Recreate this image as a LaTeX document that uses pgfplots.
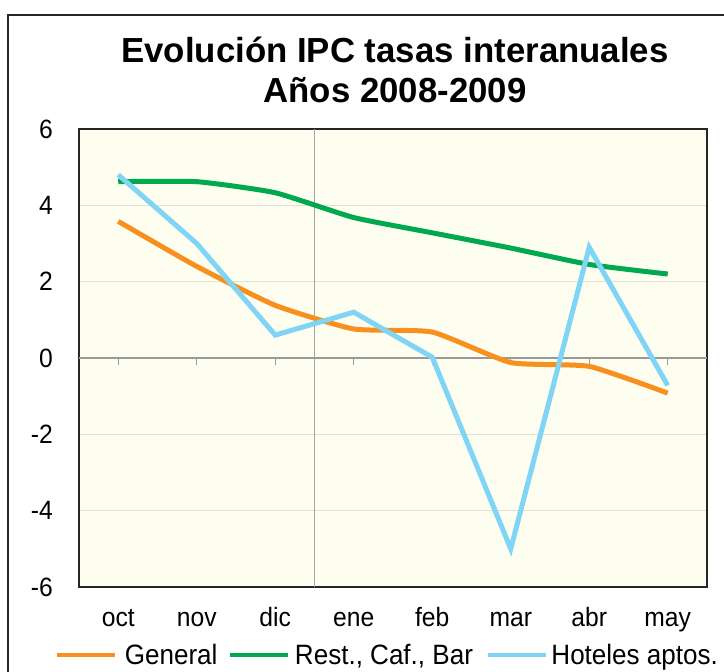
\documentclass[border=0pt]{standalone}
\usepackage{fontspec}
\setmainfont{Liberation Sans}
\newfontfamily\tickfont{Liberation Sans}[FakeStretch=0.93]
\usepackage{pgfplots}
\pgfplotsset{compat=1.18}
\definecolor{cOrange}{HTML}{F7901E}
\definecolor{cGreen}{HTML}{00A850}
\definecolor{cBlue}{HTML}{80D4F6}
\definecolor{cBg}{HTML}{FEFEF0}
\definecolor{cGrid}{HTML}{E2E0D2}
\begin{document}
\begin{tikzpicture}
\path[use as bounding box] (-79pt,-85pt) rectangle (645pt,587pt);
\begin{scope}
\clip (-79pt,-85pt) rectangle (645pt,587pt);
\draw[line width=1.5pt, black!85] (-71pt,-120pt) -- (-71pt,572pt) -- (680pt,572pt);
\end{scope}
\node[anchor=base, font=\fontsize{34.8}{40}\selectfont\bfseries, inner sep=0pt] at (316pt,524pt) {Evolución IPC tasas interanuales};
\node[anchor=base, font=\fontsize{34.8}{40}\selectfont\bfseries, inner sep=0pt] at (316pt,484pt) {Años 2008-2009};
\begin{axis}[
  width=628pt, height=458pt, scale only axis,
  xmin=-0.5, xmax=7.5, ymin=-6, ymax=6,
  xtick={0,1,2,3,4,5,6,7},
  xticklabels={oct,nov,dic,ene,feb,mar,abr,may},
  ytick={-6,-4,-2,0,2,4,6},
  yticklabels={-6,-4,-2,0,2,4,6},
  major tick length=0pt,
  ymajorgrids,
  grid style={color=cGrid, line width=0.8pt},
  axis background/.style={fill=cBg},
  axis line style={line width=1.5pt, black!85},
  tick label style={font=\tickfont\fontsize{26.5}{28}\selectfont, inner sep=0pt},
  xticklabel style={anchor=base, yshift=-40pt},
  yticklabel style={anchor=east, xshift=-26pt},
  legend columns=3,
  legend style={draw=none, fill=none, inner sep=0pt,
    at={(axis description cs:-0.038,-0.148)}, anchor=west,
    font=\tickfont\fontsize{28}{30}\selectfont,
    nodes={inner sep=0pt},
    /tikz/column 1/.style={column sep=8pt},
    /tikz/column 2/.style={column sep=11pt},
    /tikz/column 3/.style={column sep=5pt},
    /tikz/column 4/.style={column sep=13pt},
    /tikz/column 5/.style={column sep=4pt}},
  legend image code/.code={\draw[#1, line width=3.5pt] (0pt,0pt) -- (58pt,0pt);},
  clip=false,
]
\draw[gray!70, line width=1pt] (axis cs:2.5,-6) -- (axis cs:2.5,6);
\draw[gray!80, line width=1.2pt] (axis cs:-0.5,0) -- (axis cs:7.5,0);
\pgfplotsinvokeforeach{0,...,7}{\draw[gray!80, line width=1pt] (axis cs:#1,0) -- ++(0pt,-7pt);}
\addplot[cOrange, line width=5pt, smooth, tension=0.3] coordinates {
 (0,3.58) (1,2.4) (2,1.38) (3,0.76) (4,0.68) (5,-0.12) (6,-0.22) (7,-0.92)};
\addlegendentry{General}
\addplot[cGreen, line width=5pt, smooth, tension=0.3] coordinates {
 (0,4.62) (1,4.62) (2,4.33) (3,3.68) (4,3.28) (5,2.88) (6,2.45) (7,2.2)};
\addlegendentry{Rest., Caf., Bar}
\addplot[cBlue, line width=5pt] coordinates {
 (0,4.8) (1,3.0) (2,0.6) (3,1.2) (4,0.02) (5,-5.0) (6,2.9) (7,-0.72)};
\addlegendentry{Hoteles aptos.}
\end{axis}
\end{tikzpicture}
\end{document}
